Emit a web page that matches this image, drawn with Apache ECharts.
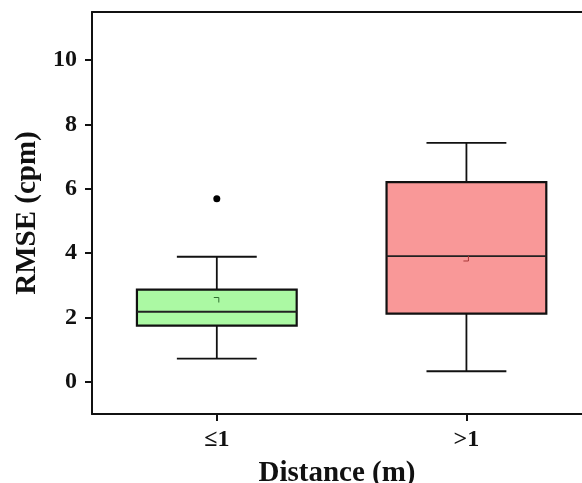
<!DOCTYPE html>
<html>
<head>
<meta charset="utf-8">
<script src="https://cdn.jsdelivr.net/npm/echarts@6/dist/echarts.min.js"></script>
<style>html,body{margin:0;padding:0;background:#fff}#c{width:582px;height:483px}</style>
</head>
<body>
<div id="c"></div>
<script>
const categories = ['≤1', '>1'];
const whiskerLow = [0.72, 0.33];
const q1 = [1.75, 2.12];
const medians = [2.18, 3.91];
const q3 = [2.87, 6.21];
const whiskerHigh = [3.89, 7.43];
const means = [2.56, 3.82];
const outliers = [[0, 5.69]];
const yTicks = [0, 2, 4, 6, 8, 10];
const xTicks = [0, 1];
const fills = ['#abf9a3', '#f99898'];
const meanColors = ['#2f6f2f', '#a83838'];

const FONT = 'Liberation Serif';
const chart = echarts.init(document.getElementById('c'), null, {renderer: 'canvas'});

const boxData = categories.map((c, i) => [i, whiskerLow[i], q1[i], medians[i], q3[i], whiskerHigh[i], means[i]]);

chart.setOption({
  animation: false,
  backgroundColor: '#fff',
  grid: {left: 92, top: 12, right: 0, bottom: 69, outerBoundsMode: 'none', containLabel: false},
  xAxis: [{
    type: 'value',
    min: -0.5,
    max: 1.463,
    name: 'Distance (m)',
    nameLocation: 'middle',
    nameGap: 45,
    nameTextStyle: {fontFamily: FONT, fontWeight: 'bold', fontSize: 29, color: '#111'},
    axisLine: {show: true, onZero: false, lineStyle: {color: '#111', width: 2}},
    axisTick: {show: true, length: 7, customValues: xTicks, lineStyle: {color: '#111', width: 2}},
    axisLabel: {fontFamily: FONT, fontWeight: 'bold', fontSize: 24, color: '#111', margin: 14,
      customValues: xTicks, formatter: v => categories[Math.round(v)]},
    splitLine: {show: false}
  }, {
    type: 'value',
    position: 'top',
    min: -0.5,
    max: 1.463,
    axisLine: {show: true, onZero: false, lineStyle: {color: '#111', width: 2}},
    axisTick: {show: false},
    axisLabel: {show: false},
    splitLine: {show: false}
  }],
  yAxis: {
    type: 'value',
    min: -1,
    max: 11.5,
    name: 'RMSE (cpm)',
    nameLocation: 'middle',
    nameGap: 50,
    nameTextStyle: {fontFamily: FONT, fontWeight: 'bold', fontSize: 29, color: '#111'},
    axisLine: {show: true, onZero: false, lineStyle: {color: '#111', width: 2}},
    axisTick: {show: true, length: 7, customValues: yTicks, lineStyle: {color: '#111', width: 2}},
    axisLabel: {fontFamily: FONT, fontWeight: 'bold', fontSize: 24, color: '#111', margin: 15, customValues: yTicks},
    splitLine: {show: false}
  },
  series: [
    {
      type: 'custom',
      xAxisIndex: 0,
      data: boxData,
      encode: {x: 0, y: [1, 2, 3, 4, 5]},
      renderItem: function (params, api) {
        const i = api.value(0);
        const x = api.coord([i, 0])[0];
        const unit = api.size([1, 0])[0];
        const bh = unit * 0.32;
        const ch = unit * 0.16;
        const Y = v => api.coord([i, api.value(v)])[1];
        const yMin = Y(1), yQ1 = Y(2), yMed = Y(3), yQ3 = Y(4), yMax = Y(5), yMean = Y(6);
        const st = {stroke: '#111', lineWidth: 1.8, fill: null};
        const mc = meanColors[i];
        const meanShape = i === 0
          ? [[x - 3, yMean - 2], [x + 2, yMean - 2], [x + 2, yMean + 3]]
          : [[x - 3, yMean + 2], [x + 2, yMean + 2], [x + 2, yMean - 3]];
        return {
          type: 'group',
          children: [
            {type: 'line', shape: {x1: x, y1: yMax, x2: x, y2: yQ3}, style: st},
            {type: 'line', shape: {x1: x, y1: yQ1, x2: x, y2: yMin}, style: st},
            {type: 'line', shape: {x1: x - ch, y1: yMax, x2: x + ch, y2: yMax}, style: st},
            {type: 'line', shape: {x1: x - ch, y1: yMin, x2: x + ch, y2: yMin}, style: st},
            {type: 'rect', shape: {x: x - bh, y: yQ3, width: 2 * bh, height: yQ1 - yQ3}, style: {fill: fills[i], stroke: '#111', lineWidth: 2.2}},
            {type: 'line', shape: {x1: x - bh, y1: yMed, x2: x + bh, y2: yMed}, style: {stroke: '#222', lineWidth: i === 0 ? 2.2 : 1.6}},
            {type: 'polyline', shape: {points: meanShape}, style: {stroke: mc, lineWidth: 1, fill: null}}
          ]
        };
      }
    },
    {
      type: 'scatter',
      xAxisIndex: 0,
      data: outliers,
      symbol: 'circle',
      symbolSize: 7,
      itemStyle: {color: '#000', opacity: 1}
    }
  ]
});
</script>
</body>
</html>
